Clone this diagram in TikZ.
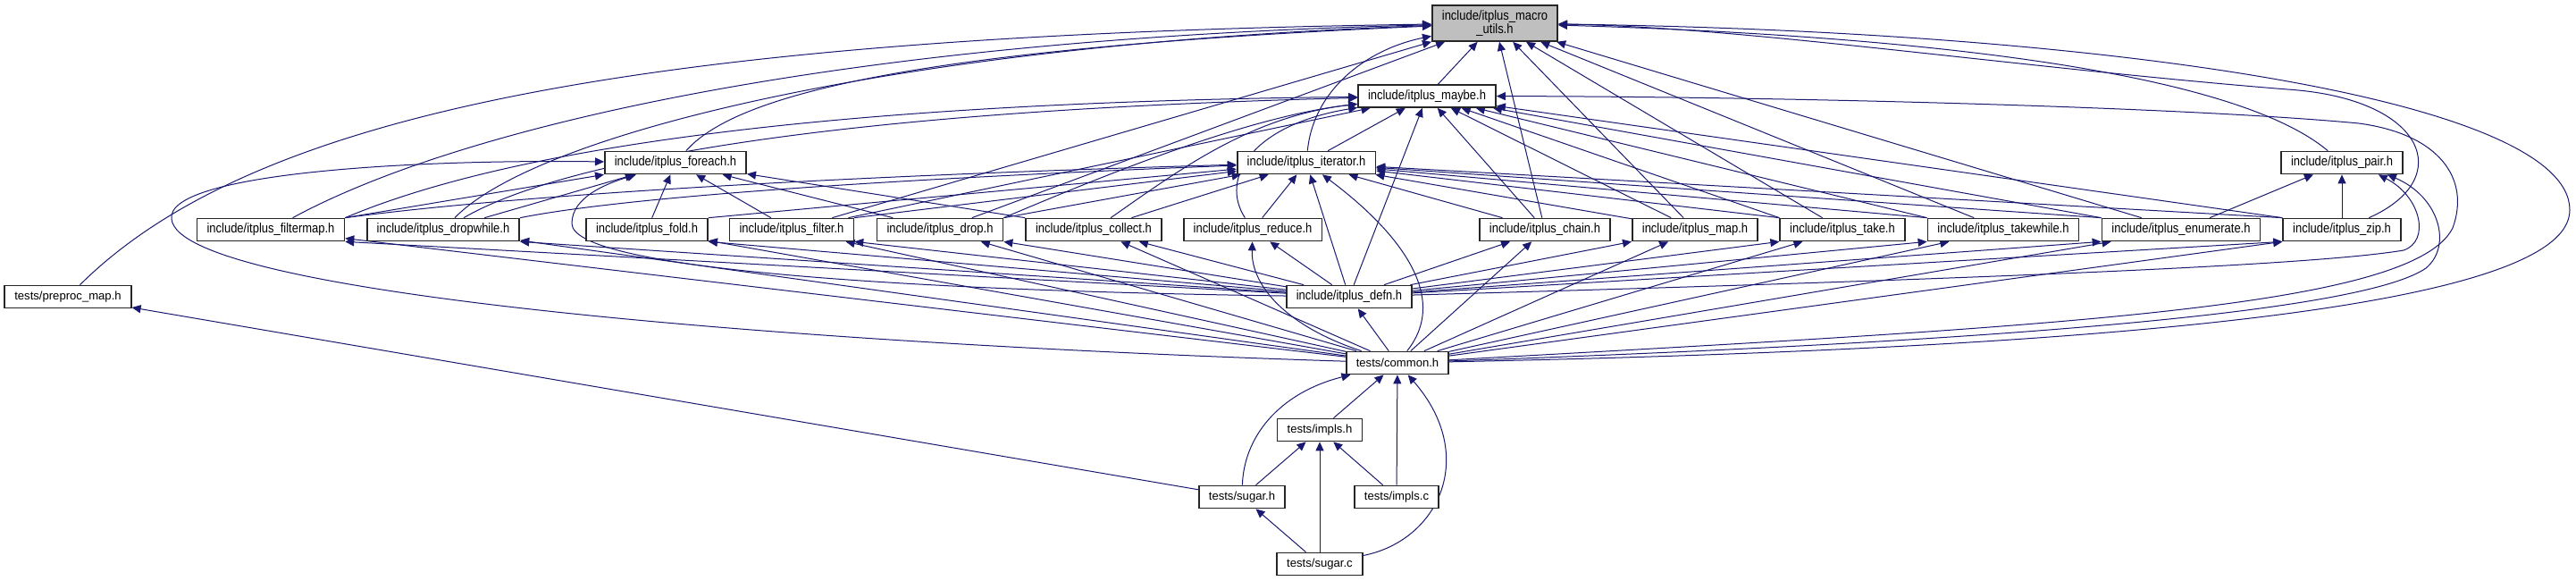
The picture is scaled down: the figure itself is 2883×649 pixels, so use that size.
\documentclass[tikz,border=0pt]{standalone}
\usepackage{fontspec}
\setmainfont{Liberation Sans}
\newfontfamily\incfont[FakeStretch=0.865]{Liberation Sans}
\usepackage{tikz}
\usetikzlibrary{arrows.meta, backgrounds}
\definecolor{depblue}{HTML}{191970}

\begin{document}
\begin{tikzpicture}[
    % one unit = one pixel of the graph, y pointing down
    x=1pt,
    y=-1pt,
    >={Triangle[length=10pt, width=9pt]},
    incbox/.style={draw=black!85, line width=1.7pt, fill=white, inner xsep=11pt, inner ysep=0pt,
        minimum height=25pt, font=\incfont\fontsize{15}{15}\selectfont},
    testbox/.style={draw=black!85, line width=1.7pt, fill=white, inner xsep=11pt, inner ysep=0pt,
        minimum height=25pt, font=\fontsize{13.1}{15}\selectfont},
    dep/.style={->, depblue, line width=1pt}
]
    \useasboundingbox (0,0) rectangle (2883,649);

    % --- Headers ---
    \node[incbox, fill=black!25, align=center, minimum height=40pt] (macro) at (1673,26) {include/itplus\_macro\\\_utils.h};
    \node[incbox] (maybe) at (1597,107.5) {include/itplus\_maybe.h};
    \node[incbox] (iterator) at (1462,182) {include/itplus\_iterator.h};
    \node[incbox] (foreach) at (756,182) {include/itplus\_foreach.h};
    \node[incbox] (pair) at (2621,182) {include/itplus\_pair.h};

    % --- Iterator adaptors ---
    \node[incbox] (filtermap) at (303,257) {include/itplus\_filtermap.h};
    \node[incbox] (dropwhile) at (496,257) {include/itplus\_dropwhile.h};
    \node[incbox] (fold) at (724,257) {include/itplus\_fold.h};
    \node[incbox] (filter) at (886,257) {include/itplus\_filter.h};
    \node[incbox] (drop) at (1052,257) {include/itplus\_drop.h};
    \node[incbox] (collect) at (1224,257) {include/itplus\_collect.h};
    \node[incbox] (reduce) at (1402,257) {include/itplus\_reduce.h};
    \node[incbox] (chain) at (1729,257) {include/itplus\_chain.h};
    \node[incbox] (map) at (1897,257) {include/itplus\_map.h};
    \node[incbox] (take) at (2062,257) {include/itplus\_take.h};
    \node[incbox] (takewhile) at (2242,257) {include/itplus\_takewhile.h};
    \node[incbox] (enumerate) at (2441,257) {include/itplus\_enumerate.h};
    \node[incbox] (zip) at (2621,257) {include/itplus\_zip.h};

    % --- Lower rows ---
    \node[testbox] (preproc) at (76,332) {tests/preproc\_map.h};
    \node[incbox] (defn) at (1510,332) {include/itplus\_defn.h};
    \node[testbox] (common) at (1564,406) {tests/common.h};
    \node[testbox] (implsh) at (1477,481) {tests/impls.h};
    \node[testbox] (sugarh) at (1390,556) {tests/sugar.h};
    \node[testbox] (implsc) at (1563,556) {tests/impls.c};
    \node[testbox] (sugarc) at (1477,631) {tests/sugar.c};

    \begin{scope}[on background layer]
    \fill[white] (0,0) rectangle (2883,649);

    % --- Into macro_utils ---
    \draw[dep] (maybe) -- (macro);
    \draw[dep] (iterator) .. controls (1470,100) and (1530,55) .. (macro);
    \draw[dep] (foreach) .. controls (820,110) and (1000,55) .. (macro);
    \draw[dep] (filtermap) .. controls (500,150) and (900,45) .. (macro);
    \draw[dep] (dropwhile) .. controls (600,150) and (1000,50) .. (macro);
    \draw[dep] (preproc) .. controls (280,130) and (700,40) .. (macro);
    \foreach \src in {filter, drop, chain, map, take, takewhile, enumerate}
        \draw[dep] (\src) -- (macro);
    \draw[dep] (pair) .. controls (2500,80) and (2150,40) .. (macro);
    \draw[dep] (zip) .. controls (2750,200) and (2715,110) .. (2560,100) .. controls (2250,75) and (1950,30) .. (macro);
    \draw[dep] (common) .. controls (2350,390) and (2876,345) .. (2876,235) .. controls (2876,110) and (2350,35) .. (macro);

    % --- Into maybe ---
    \draw[dep] (iterator) -- (maybe);
    \draw[dep] (filtermap.north east) .. controls (560,170) and (900,115) .. (maybe);
    \draw[dep] (dropwhile) .. controls (620,185) and (900,125) .. (maybe);
    \draw[dep] (reduce) .. controls (1365,200) and (1400,140) .. (maybe);
    \draw[dep] (collect) .. controls (1320,190) and (1400,130) .. (maybe);
    \draw[dep] (drop.north east) .. controls (1250,190) and (1400,130) .. (maybe);
    \foreach \src in {filter, chain, map, defn}
        \draw[dep] (\src) -- (maybe);
    \foreach \src in {take, takewhile, enumerate, zip}
        \draw[dep] (\src.north west) -- (maybe);
    \draw[dep] (common) .. controls (2300,365) and (2700,345) .. (2745,255) .. controls (2765,200) and (2730,150) .. (2640,138) .. controls (2450,120) and (2000,108) .. (maybe);

    % --- Into iterator ---
    \draw[dep] (filtermap.north east) .. controls (600,215) and (1000,195) .. (iterator);
    \draw[dep] (dropwhile.north east) .. controls (700,220) and (1000,200) .. (iterator);
    \foreach \src in {fold, filter, drop}
        \draw[dep] (\src.north east) -- (iterator);
    \foreach \src in {collect, reduce, chain, map, defn}
        \draw[dep] (\src) -- (iterator);
    \foreach \src in {take, takewhile, enumerate, zip}
        \draw[dep] (\src.north west) -- (iterator);
    \draw[dep] (common) .. controls (1625,330) and (1560,255) .. (iterator);

    % --- Into foreach ---
    \draw[dep] (filtermap.north east) -- (foreach);
    \foreach \src in {dropwhile, fold, filter, drop}
        \draw[dep] (\src) -- (foreach);
    \draw[dep] (collect.north west) -- (foreach);
    \draw[dep] (defn) .. controls (1000,325) and (640,300) .. (640,250) .. controls (640,220) and (680,205) .. (foreach);
    \draw[dep] (common) .. controls (900,385) and (200,330) .. (192,245) .. controls (185,195) and (450,178) .. (foreach);

    % --- Into pair ---
    \draw[dep] (enumerate) -- (pair);
    \draw[dep] (zip) -- (pair);
    \draw[dep] (defn) .. controls (2300,310) and (2600,295) .. (2690,280) .. controls (2720,270) and (2710,220) .. ([xshift=-28pt]pair.south east);
    \draw[dep] (common) .. controls (2300,380) and (2650,345) .. (2715,300) .. controls (2745,275) and (2730,220) .. ([xshift=-18pt]pair.south east);

    % --- Adaptors from defn and common ---
    \draw[dep] (common) -- (defn);
    \foreach \op in {filtermap, dropwhile, fold, filter, drop}
        \draw[dep] (defn) -- (\op.south east);
    \foreach \op in {collect, reduce, chain}
        \draw[dep] (defn) -- (\op);
    \foreach \op in {map, take, takewhile, enumerate, zip}
        \draw[dep] (defn) -- (\op.south west);
    \foreach \op in {filtermap, dropwhile, fold, filter, drop, collect, chain, map, take, takewhile, enumerate}
        \draw[dep] (common) -- (\op);
    \draw[dep] (common) -- (zip.south west);
    \draw[dep] (common) .. controls (1440,365) and (1400,320) .. (reduce);

    % --- Tests ---
    \draw[dep] (implsh) -- (common);
    \draw[dep] (implsc) -- (common);
    \draw[dep] (sugarh) .. controls (1392,490) and (1430,440) .. (common);
    \draw[dep] (sugarc) .. controls (1610,605) and (1655,510) .. (common);
    \draw[dep] (sugarh) -- (implsh);
    \draw[dep] (implsc) -- (implsh);
    \draw[dep] (sugarc) -- (implsh);
    \draw[dep] (sugarc) -- (sugarh);
    \draw[dep] (sugarh) -- (preproc);
    \end{scope}

\end{tikzpicture}
\end{document}
